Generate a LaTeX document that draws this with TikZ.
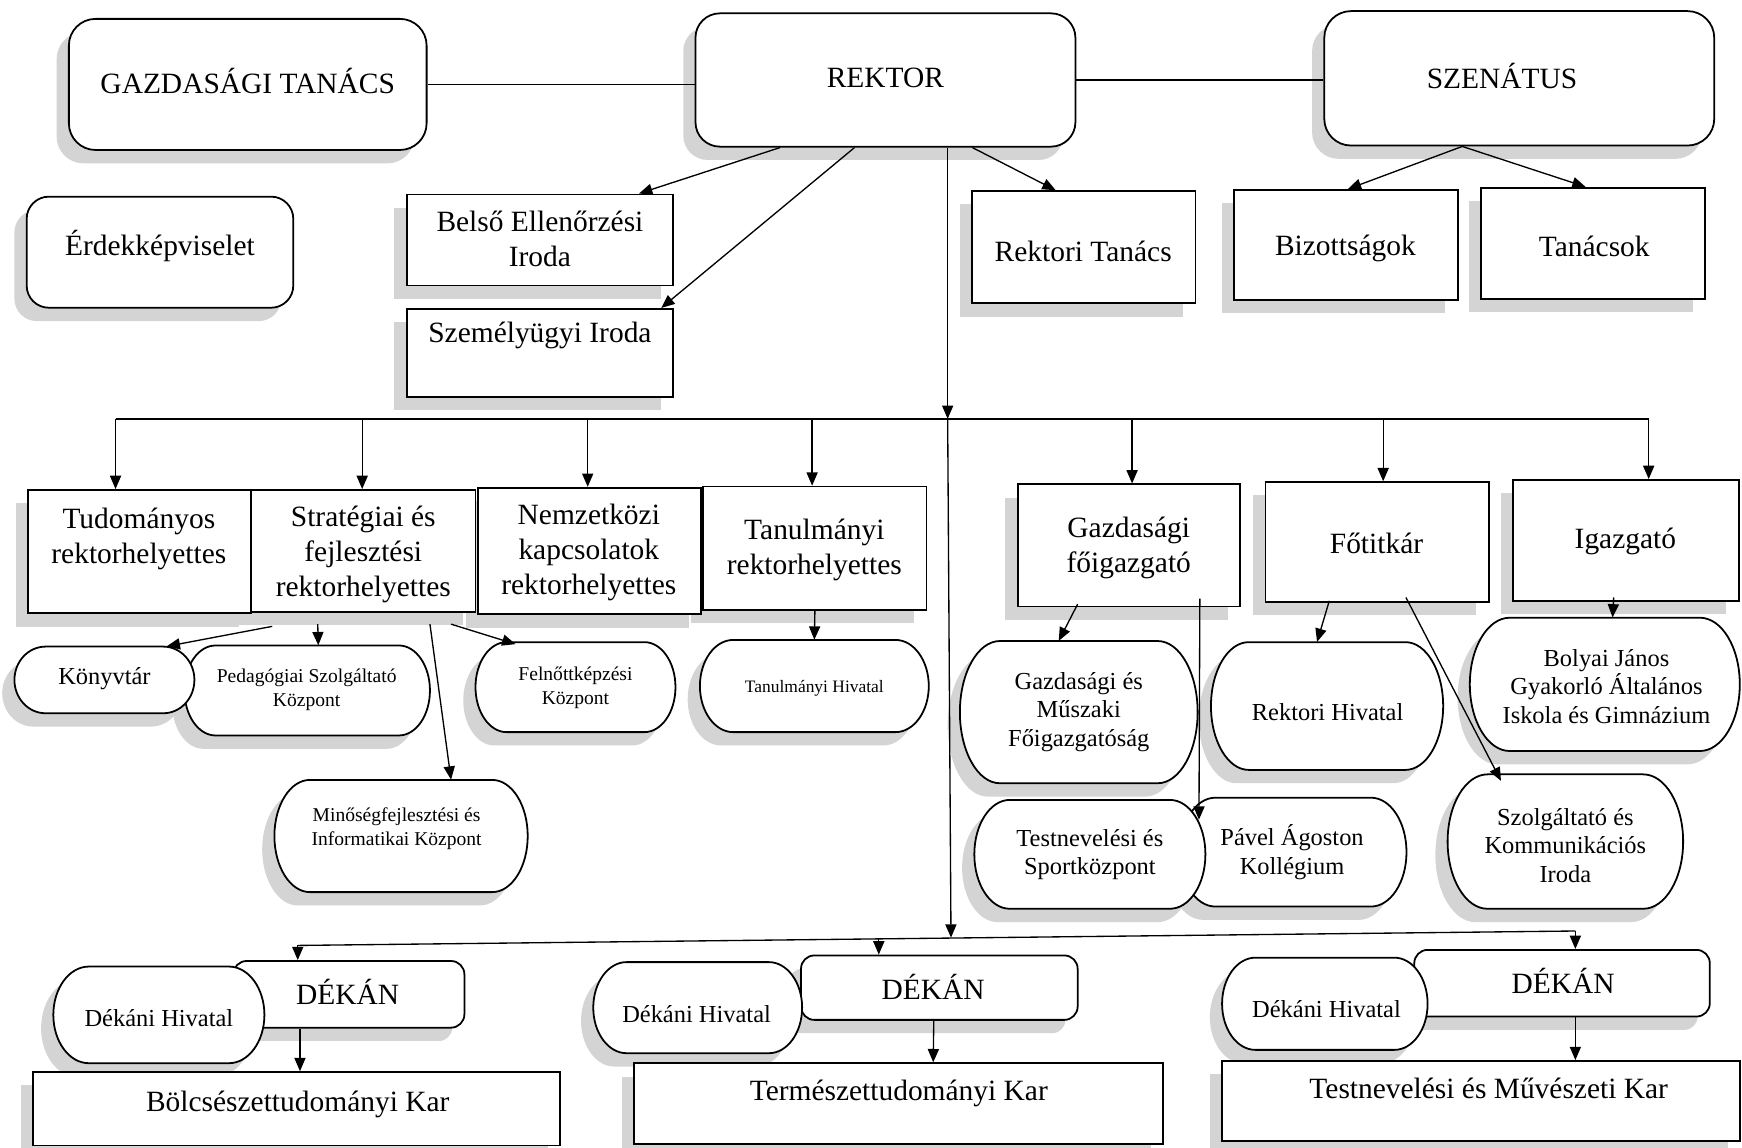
\documentclass[tikz,border=0pt]{standalone}
\usepackage{fontspec}
\setmainfont{Liberation Serif}
\usetikzlibrary{arrows.meta,calc}
\pgfdeclarelayer{background}
\pgfsetlayers{background,main}
\newcommand\fbig{\fontsize{26.5}{31.5}\selectfont}
\newcommand\fmid{\fontsize{22}{25.5}\selectfont}
\newcommand\fsm{\fontsize{17.6}{22}\selectfont}
\newcommand\ftiny{\fontsize{15.7}{19}\selectfont}
\tikzset{
  box/.style={draw,line width=1.6pt,fill=white,inner sep=0pt},
  txt/.style={align=center,inner sep=0pt},
  arr/.style={line width=1.2pt,-{Triangle[length=12pt,width=10pt]}},
  plain/.style={line width=1.2pt},
  shadowc/.style={fill=black!17,draw=none},
}
% rectangle / rounded box with shadow: [opts]{name}{x1}{y1}{x2}{y2}
\newcommand\bx[6][]{%
  \node[box,#1,minimum width={(#5-#3)*1pt},minimum height={(#6-#4)*1pt}] (#2) at ({(#3+#5)/2},{(#4+#6)/2}) {};
  \begin{pgfonlayer}{background}
    \fill[shadowc,#1] ({#3-11},{#4+12}) rectangle ({#5-11},{#6+12});
  \end{pgfonlayer}}
% stadium shape with shadow: {name}{x1}{y1}{x2}{y2}{rx}
\newcommand\stad[6]{%
  \begin{pgfonlayer}{background}
    \fill[shadowc,shift={(-11,12)}] ({#2+#6},#3) -- ({#4-#6},#3)
      arc[start angle=90,end angle=-90,x radius=#6pt,y radius={(#5-#3)/2*1pt}]
      -- ({#2+#6},#5)
      arc[start angle=270,end angle=90,x radius=#6pt,y radius={(#5-#3)/2*1pt}] -- cycle;
  \end{pgfonlayer}
  \draw[box] ({#2+#6},#3) -- ({#4-#6},#3)
      arc[start angle=90,end angle=-90,x radius=#6pt,y radius={(#5-#3)/2*1pt}]
      -- ({#2+#6},#5)
      arc[start angle=270,end angle=90,x radius=#6pt,y radius={(#5-#3)/2*1pt}] -- cycle;
  \node[inner sep=0pt,minimum width={(#4-#2)*1pt},minimum height={(#5-#3)*1pt}] (#1) at ({(#2+#4)/2},{(#3+#5)/2}) {};}
\begin{document}
\begin{tikzpicture}[x=1pt,y=-1pt]
\useasboundingbox (0,0) rectangle (1568,1033);
\begin{pgfonlayer}{background}
  \fill[white] (0,0) rectangle (1568,1033);
\end{pgfonlayer}

% ---- top row
\bx[rounded corners=24pt]{gt}{62}{17}{384}{135}
\node[txt,font=\fbig] (gt-t) at (223,73) {GAZDASÁGI TANÁCS};
\bx[rounded corners=22pt]{rk}{626}{12}{968}{132}
\node[txt,font=\fbig] (rk-t) at (797,70) {REKTOR};
\bx[rounded corners=24pt]{sz}{1192}{10}{1543}{131}
\node[txt,font=\fbig] (sz-t) at (1352,68) {SZENÁTUS};

\bx[rounded corners=20pt]{er}{24}{177}{264}{277}
\node[txt,font=\fbig] (er-t) at (144,221) {Érdekképviselet};
\bx{be}{366}{175}{606}{257}
\node[txt,font=\fbig] (be-t) at (486,215) {Belső Ellenőrzési\\Iroda};
\bx{sze}{366}{278}{606}{357}
\node[txt,font=\fbig] (sze-t) at (486,302) {Személyügyi Iroda};
\bx{rt}{875}{172}{1076}{273}
\node[txt,font=\fbig] (rt-t) at (975,226) {Rektori Tanács};
\bx{bi}{1111}{171}{1312}{270}
\node[txt,font=\fbig] (bi-t) at (1211,224) {Bizottságok};
\bx{ta}{1333}{169}{1535}{269}
\node[txt,font=\fbig] (ta-t) at (1435,222) {Tanácsok};

% ---- second row
\bx{tu}{25}{441}{226}{552}
\node[txt,font=\fbig] (tu-t) at (125,485) {Tudományos\\rektorhelyettes};
\bx{st}{226}{441}{428}{551}
\node[txt,font=\fbig] (st-t) at (327,499) {Stratégiai és\\fejlesztési\\rektorhelyettes};
\bx{ne}{430}{439}{631}{553}
\node[txt,font=\fbig] (ne-t) at (530,497) {Nemzetközi\\kapcsolatok\\rektorhelyettes};
\bx{tn}{633}{438}{834}{549}
\node[txt,font=\fbig] (tn-t) at (733,495) {Tanulmányi\\rektorhelyettes};
\bx{gf}{916}{436}{1116}{546}
\node[txt,font=\fbig] (gf-t) at (1016,493) {Gazdasági\\főigazgató};
\bx{fo}{1139}{434}{1340}{542}
\node[txt,font=\fbig] (fo-t) at (1239,489) {Főtitkár};
\bx{ig}{1362}{432}{1565}{541}
\node[txt,font=\fbig] (ig-t) at (1463,487) {Igazgató};

% ---- third row
\stad{pe}{166}{581}{387}{662}{28}
\node[txt,font=\fsm] (pe-t) at (276,621) {Pedagógiai Szolgáltató\\Központ};
\stad{ko}{13}{582}{175}{642}{28}
\node[txt,font=\fmid] (ko-t) at (94,611) {Könyvtár};
\stad{fe}{428}{578}{608}{659}{28}
\node[txt,font=\fsm] (fe-t) at (518,619) {Felnőttképzési\\Központ};
\stad{th}{630}{576}{836}{659}{30}
\node[txt,font=\ftiny] (th-t) at (733,620) {Tanulmányi Hivatal};
\stad{mi}{247}{702}{475}{803}{32}
\node[txt,font=\fsm] (mi-t) at (357,746) {Minőségfejlesztési és\\Informatikai Központ};
\stad{gm}{864}{577}{1078}{705}{36}
\node[txt,font=\fmid] (gm-t) at (971,641) {Gazdasági és\\Műszaki\\Főigazgatóság};
\stad{rh}{1090}{578}{1299}{693}{34}
\node[txt,font=\fmid] (rh-t) at (1195,641) {Rektori Hivatal};
\stad{bo}{1323}{556}{1566}{676}{36}
\node[txt,font=\fmid] (bo-t) at (1446,618) {Bolyai János\\Gyakorló Általános\\Iskola és Gimnázium};
\stad{pa}{1062}{718}{1266}{816}{32}
\node[txt,font=\fmid] (pa-t) at (1163,767) {Pável Ágoston\\Kollégium};
\stad{ts}{877}{720}{1085}{818}{32}
\node[txt,font=\fmid] (ts-t) at (981,769) {Testnevelési és\\Sportközpont};
\stad{sk}{1303}{697}{1515}{818}{36}
\node[txt,font=\fmid] (sk-t) at (1409,761) {Szolgáltató és\\Kommunikációs\\Iroda};

% ---- bottom row
\bx[rounded corners=12pt]{d1}{210}{865}{418}{925}
\node[txt,font=\fbig] (d1-t) at (313,893) {DÉKÁN};
\stad{h1}{48}{870}{238}{957}{32}
\node[txt,font=\fmid] (h1-t) at (143,916) {Dékáni Hivatal};
\bx{k1}{30}{965}{504}{1031}
\node[txt,font=\fbig] (k1-t) at (268,994) {Bölcsészettudományi Kar};

\bx[rounded corners=12pt]{d2}{721}{860}{970}{918}
\node[txt,font=\fbig] (d2-t) at (840,888) {DÉKÁN};
\stad{h2}{534}{866}{722}{948}{30}
\node[txt,font=\fmid] (h2-t) at (627,913) {Dékáni Hivatal};
\bx{k2}{571}{957}{1047}{1030}
\node[txt,font=\fbig] (k2-t) at (809,984) {Természettudományi Kar};

\bx[rounded corners=12pt]{d3}{1273}{855}{1539}{915}
\node[txt,font=\fbig] (d3-t) at (1407,883) {DÉKÁN};
\stad{h3}{1100}{862}{1285}{945}{30}
\node[txt,font=\fmid] (h3-t) at (1194,908) {Dékáni Hivatal};
\bx{k3}{1100}{955}{1566}{1027}
\node[txt,font=\fbig] (k3-t) at (1340,980) {Testnevelési és Művészeti Kar};

% ---- connectors, top
\draw[plain] (gt.east) -- (gt.east -| rk.west);
\draw[plain] (rk.east) -- (rk.east -| sz.west);
\draw[arr] ([xshift=77pt]rk.south west) -- ([xshift=210pt]be.north west);
\draw[arr] ([xshift=144pt]rk.south west) -- ([xshift=230pt]sze.north west);
\draw[arr] ([xshift=250pt]rk.south west) -- ([xshift=76pt]rt.north west);
\coordinate (szb) at ($(sz.south west)+(125,0)$);
\draw[arr] (szb) -- ([xshift=103pt]bi.north west);
\draw[arr] (szb) -- ([xshift=95pt]ta.north west);

% ---- bus 1
\coordinate (v1) at (853,377);
\coordinate (b1) at (104,377);
\coordinate (b2) at (326,377);
\coordinate (b3) at (529,377);
\coordinate (b4) at (731,377);
\coordinate (b5) at (1019,377);
\coordinate (b6) at (1245,377);
\coordinate (b7) at (1484,377);
\draw[arr] ([xshift=56pt]rk.south) -- (v1);
\draw[plain] (b1) -- (b7);
\draw[arr] (b1) -- (b1 |- tu.north);
\draw[arr] (b2) -- (b2 |- st.north);
\draw[arr] (b3) -- (b3 |- ne.north);
\draw[arr] (b4) -- (b4 |- tn.north);
\draw[arr] (b5) -- (b5 |- gf.north);
\draw[arr] (b6) -- (b6 |- fo.north);
\draw[arr] (b7) -- (b7 |- ig.north);

% ---- connectors, third row
\draw[arr] ($(st.south)+(-82,12)$) -- ($(ko.north)+(56,0)$);
\draw[arr] ($(st.south)+(-41,10)$) -- ($(pe.north)+(10,0)$);
\draw[arr] ($(st.south)+(60,10)$) -- ($(mi.north)+(45,0)$);
\draw[arr] ($(st.south)+(79,10)$) -- ($(fe.north)+(-54,2)$);
\draw[arr] (tn.south) -- (th.north);
\draw[arr] ($(gf.south)+(-46,-3)$) -- ($(gm.north)+(-18,0)$);
\draw[arr] ($(gf.south)+(64,-8)$) -- ($(ts.north east)+(-6,18)$);
\draw[arr] ($(fo.south)+(-43,-2)$) -- ($(rh.north)+(-9,0)$);
\draw[arr] ($(fo.south)+(26,-5)$) -- ($(sk.north)+(-58,6)$);
\draw[arr] ($(ig.south)+(-11,-4)$) -- ($(bo.north)+(7,0)$);

% ---- bus 2
\coordinate (c1) at (268,851);
\coordinate (c2) at (791,845);
\coordinate (c3) at (1418,838);
\coordinate (v2) at (856,844);
\draw[arr] (v1) -- (v2);
\draw[plain] (c1) -- (c3);
\draw[arr] (c1) -- (c1 |- d1.north);
\draw[arr] (c2) -- (c2 |- d2.north);
\draw[arr] (c3) -- (c3 |- d3.north);

% ---- dean to faculty
\draw[arr] ($(d1.south)+(-44,0)$) -- ($(k1.north)+(3,0)$);
\draw[arr] ($(d2.south)+(-5,0)$) -- ($(k2.north)+(31,0)$);
\draw[arr] ($(d3.south)+(12,0)$) -- ($(k3.north)+(85,0)$);
\end{tikzpicture}
\end{document}
